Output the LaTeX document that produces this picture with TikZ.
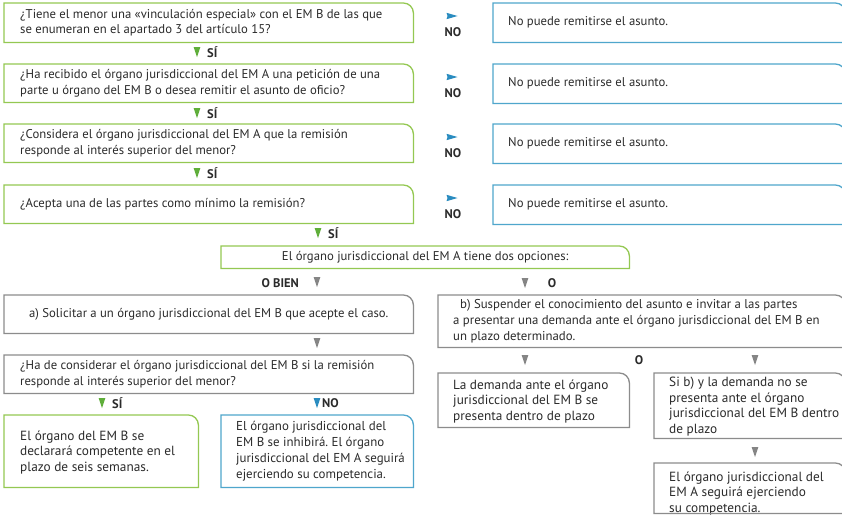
\documentclass[tikz,border=0pt]{standalone}
\usepackage{fontspec}
\setmainfont{PT Sans}
\frenchspacing
\definecolor{gr}{HTML}{94C852}
\definecolor{grd}{HTML}{5FAE3A}
\definecolor{bl}{HTML}{4FA6CC}
\definecolor{bld}{HTML}{2A8CC0}
\definecolor{gy}{HTML}{8C8C8C}
\definecolor{gyd}{HTML}{858585}
\definecolor{tx}{HTML}{2B2B2B}
\newcommand\myframe[2]{\draw[#2, line width=1.3pt] (#1.south west) -- (#1.north west) -- ([xshift=-10pt]#1.north east) arc[start angle=90, end angle=0, radius=10pt] -- (#1.south east) -- cycle;}
\tikzset{
  fr/.style={anchor=north west, inner sep=0pt, minimum width=#1},
  txt/.style={anchor=west, inner sep=0pt, align=left, text=tx, font=\fontsize{12.7}{15.3}\selectfont},
  stxt/.style={anchor=west, inner sep=0pt, align=left, text=tx, font=\fontsize{13.3}{15.5}\selectfont},
  lab/.style={font=\fontsize{12.5}{14}\selectfont\bfseries, text=tx, inner sep=0pt},
  downtri/.pic={\fill (-3.4,-5) -- (3.4,-5) -- (0,5) -- cycle;},
  righttri/.pic={\fill (-5.5,-3.2) -- (5.5,0) -- (-5.5,3.2) -- (-4.5,0) -- cycle;}
}
\begin{document}
\begin{tikzpicture}[x=1pt,y=-1pt]
\useasboundingbox (0,0) rectangle (842,517);
\fill[white] (0,0) rectangle (842,517);
\clip (0,0) rectangle (842,517);
% left question column
\node[fr=409pt, minimum height=39pt] (q1) at (4,3) {};
\node[txt] (q1t) at ([xshift=16pt]q1.west) {¿Tiene el menor una «vinculación especial» con el EM B de las que\\se enumeran en el apartado 3 del artículo 15?};
\node[fr=409pt, minimum height=38pt] (q2) at (4,64) {};
\node[txt] (q2t) at ([xshift=16pt]q2.west) {¿Ha recibido el órgano jurisdiccional del EM A una petición de una\\parte u órgano del EM B o desea remitir el asunto de oficio?};
\node[fr=409pt, minimum height=38pt] (q3) at (4,124) {};
\node[txt] (q3t) at ([xshift=16pt]q3.west) {¿Considera el órgano jurisdiccional del EM A que la remisión\\responde al interés superior del menor?};
\node[fr=409pt, minimum height=38pt] (q4) at (4,185) {};
\node[txt] (q4t) at ([xshift=16pt]q4.west) {¿Acepta una de las partes como mínimo la remisión?};
\foreach \n in {q1,q2,q3,q4} {\myframe{\n}{gr}}
% SI markers
\pic[grd] at (197,52) {downtri}; \node[lab, anchor=west] (s1) at (207,52) {SÍ};
\pic[grd] at (197,113) {downtri}; \node[lab, anchor=west] (s2) at (207,113) {SÍ};
\pic[grd] at (197,173) {downtri}; \node[lab, anchor=west] (s3) at (207,173) {SÍ};
\pic[grd] at (318,233) {downtri}; \node[lab, anchor=west] (s4) at (328,233) {SÍ};
% NO column
\foreach \y/\nm in {3/n1,64/n2,124/n3,185/n4} {
  \pic[bld] at (452,\y+13) {righttri};
  \node[lab] (l\nm) at (453,\y+29) {NO};
  \node[fr=352pt, minimum height=39pt] (\nm) at (493,\y) {};
  \node[txt] (\nm t) at ([xshift=15pt]\nm.west) {No puede remitirse el asunto.};
  \myframe{\nm}{bl}
}
% options
\node[fr=408pt, minimum height=22pt] (op) at (221,246) {};
\node[txt, anchor=center] (opt) at (op.center) {El órgano jurisdiccional del EM A tiene dos opciones:};
\myframe{op}{gr}
\node[lab, anchor=east] (ob) at (299,283) {O BIEN};
\pic[gyd] at (317,282) {downtri};
\pic[gyd] at (525,283) {downtri};
\node[lab] (oo) at (552,283) {O};
% branch a
\node[fr=409pt, minimum height=38pt] (a) at (4,295) {};
\node[txt, anchor=center] (at) at (a.center) {a) Solicitar a un órgano jurisdiccional del EM B que acepte el caso.};
\myframe{a}{gy}
\pic[gyd] at (317,343) {downtri};
\node[fr=409pt, minimum height=38pt] (c) at (4,355) {};
\node[txt] (ct) at ([xshift=16pt]c.west) {¿Ha de considerar el órgano jurisdiccional del EM B si la remisión\\responde al interés superior del menor?};
\myframe{c}{gy}
\pic[grd] at (102,403) {downtri}; \node[lab, anchor=west] (cs) at (112,403) {SÍ};
\pic[bld] at (317,403) {downtri}; \node[lab, anchor=west] (cn) at (322,403) {NO};
\node[fr=194pt, minimum height=72pt] (g) at (4,415) {};
\node[stxt] (gt) at ([xshift=16pt,yshift=-1pt]g.west) {El órgano del EM B se\\declarará competente en el\\plazo de seis semanas.};
\myframe{g}{gr}
\node[fr=192pt, minimum height=72pt] (h) at (221,415) {};
\node[txt, font=\fontsize{12.9}{15.8}\selectfont] (ht) at ([xshift=15pt]h.west) {El órgano jurisdiccional del\\EM B se inhibirá. El órgano\\jurisdiccional del EM A seguirá\\ejerciendo su competencia.};
\myframe{h}{bl}
% branch b
\node[fr=407pt, minimum height=52pt] (b) at (438,295) {};
\node[txt, font=\fontsize{12.8}{16}\selectfont] (bt) at ([xshift=15pt]b.west) {\hspace*{7pt}b) Suspender el conocimiento del asunto e invitar a las partes\\a presentar una demanda ante el órgano jurisdiccional del EM B en\\un plazo determinado.};
\myframe{b}{gy}
\pic[gyd] at (525,360) {downtri};
\node[lab] (o2) at (639,360) {O};
\pic[gyd] at (755,360) {downtri};
\node[fr=191pt, minimum height=54pt] (d) at (438,373) {};
\node[stxt] (dt) at ([xshift=15pt,yshift=-1pt]d.west) {La demanda ante el órgano\\jurisdiccional del EM B se\\presenta dentro de plazo};
\myframe{d}{gy}
\node[fr=191pt, minimum height=65pt] (e) at (654,373) {};
\node[stxt] (et) at ([xshift=15pt,yshift=-1pt]e.west) {Si b) y la demanda no se\\presenta ante el órgano\\jurisdiccional del EM B dentro\\de plazo};
\myframe{e}{gy}
\pic[gyd] at (755,452) {downtri};
\node[fr=191pt, minimum height=50pt] (f) at (654,463) {};
\node[stxt] (ft) at ([xshift=15pt,yshift=-5pt]f.west) {El órgano jurisdiccional del\\EM A seguirá ejerciendo\\su competencia.};
\myframe{f}{gy}
\end{tikzpicture}
\end{document}
